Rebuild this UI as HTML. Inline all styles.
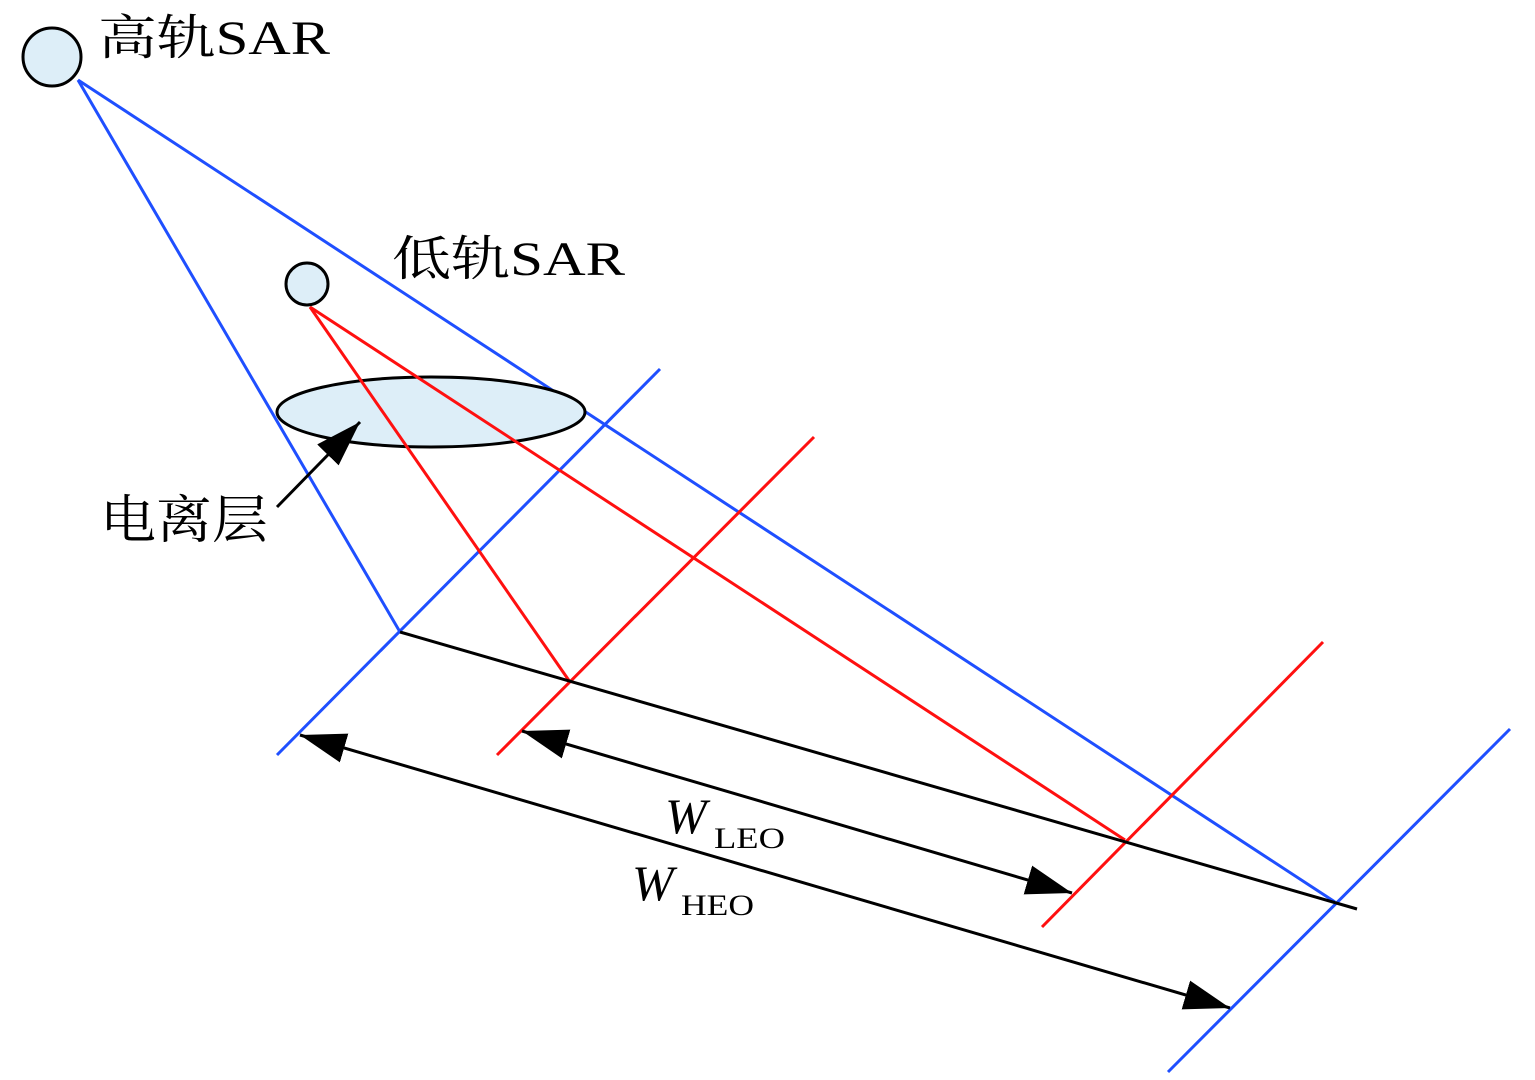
<!DOCTYPE html>
<html><head><meta charset="utf-8"><style>
html,body{margin:0;padding:0;background:#fff;}
svg{display:block;}
text{font-family:"Liberation Serif","Noto Serif CJK SC","Noto Sans CJK SC",serif;fill:#000;}
</style></head><body>
<svg width="1535" height="1080" viewBox="0 0 1535 1080" xmlns="http://www.w3.org/2000/svg">
<defs>
<marker id="ah" markerUnits="userSpaceOnUse" markerWidth="50" markerHeight="34" refX="46" refY="15" orient="auto-start-reverse">
<path d="M0,0 L46,15 L0,30 Z" fill="#000"/>
</marker>
</defs>
<line x1="78" y1="80" x2="400" y2="632" stroke="#1f4fff" stroke-width="3"/>
<line x1="78" y1="80" x2="1335" y2="902" stroke="#1f4fff" stroke-width="3"/>
<line x1="660" y1="369" x2="277" y2="755" stroke="#1f4fff" stroke-width="3"/>
<line x1="1510" y1="729" x2="1168" y2="1072" stroke="#1f4fff" stroke-width="3"/>
<ellipse cx="431" cy="412" rx="154" ry="35" fill="#ddeef8" stroke="#000" stroke-width="3"/>
<line x1="310" y1="307" x2="570" y2="682" stroke="#ff1010" stroke-width="3"/>
<line x1="310" y1="307" x2="1125" y2="840" stroke="#ff1010" stroke-width="3"/>
<line x1="814" y1="437" x2="497" y2="755" stroke="#ff1010" stroke-width="3"/>
<line x1="1323" y1="642" x2="1042" y2="927" stroke="#ff1010" stroke-width="3"/>
<line x1="400" y1="632" x2="1357" y2="909" stroke="#000" stroke-width="3"/>
<line x1="300" y1="735" x2="1230" y2="1008" stroke="#000" stroke-width="3" marker-start="url(#ah)" marker-end="url(#ah)"/>
<line x1="522" y1="731" x2="1072" y2="893" stroke="#000" stroke-width="3" marker-start="url(#ah)" marker-end="url(#ah)"/>
<line x1="277" y1="507" x2="360" y2="422" stroke="#000" stroke-width="3" marker-end="url(#ah)"/>
<circle cx="52" cy="57" r="29" fill="#ddeef8" stroke="#000" stroke-width="3"/>
<circle cx="307" cy="284" r="21" fill="#ddeef8" stroke="#000" stroke-width="3"/>
<text x="98" y="54" font-size="48" textLength="232" lengthAdjust="spacingAndGlyphs">高轨SAR</text>
<text x="392" y="275" font-size="48" textLength="233" lengthAdjust="spacingAndGlyphs">低轨SAR</text>
<text x="100" y="538" font-size="52" textLength="168" lengthAdjust="spacingAndGlyphs">电离层</text>
<text x="665" y="833" font-size="50" font-style="italic">W</text>
<text x="714" y="848" font-size="30" textLength="71" lengthAdjust="spacingAndGlyphs">LEO</text>
<text x="632" y="900" font-size="50" font-style="italic">W</text>
<text x="681" y="915" font-size="30" textLength="73" lengthAdjust="spacingAndGlyphs">HEO</text>
</svg>
</body></html>
